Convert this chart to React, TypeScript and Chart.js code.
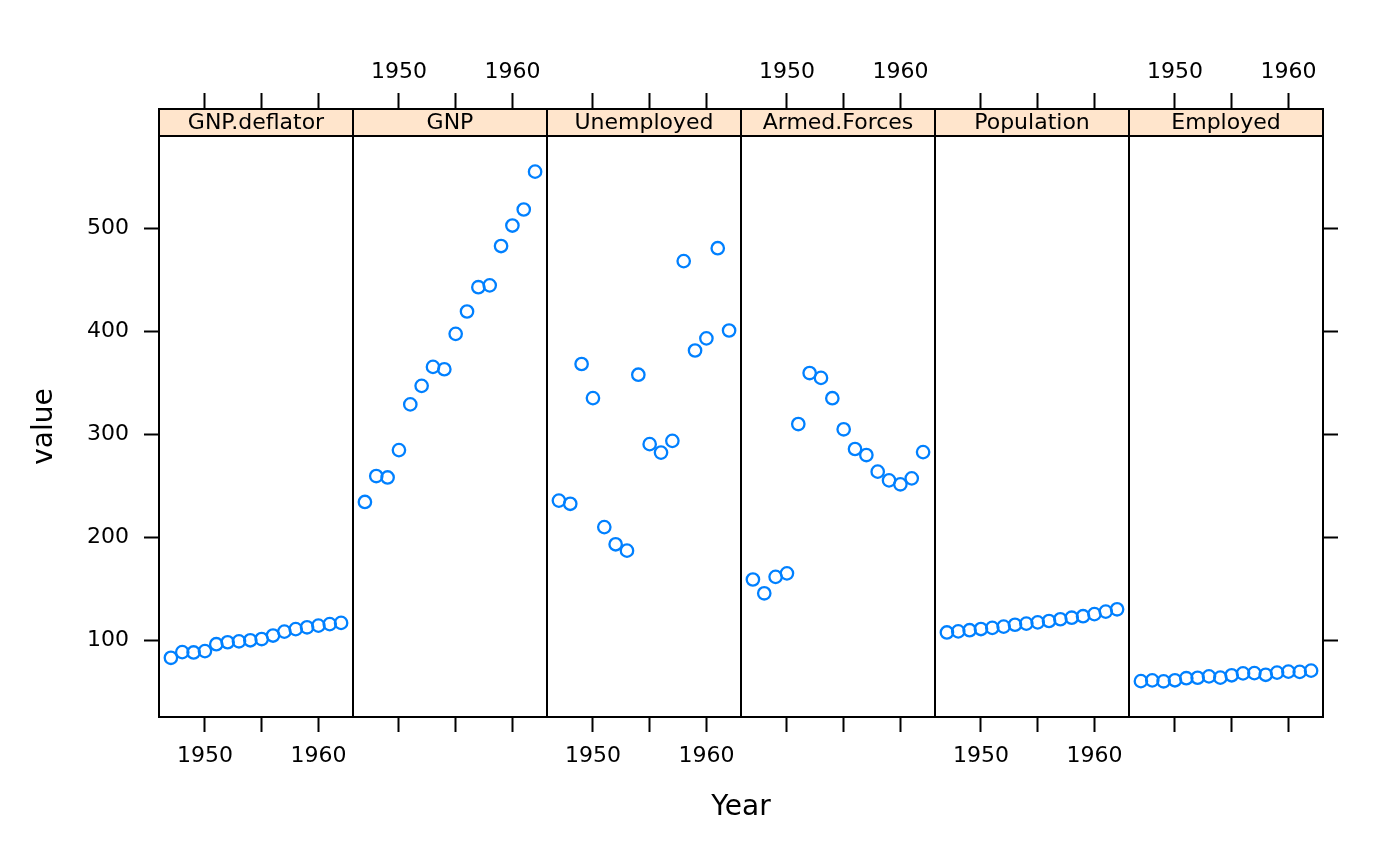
import React, { useEffect, useRef } from "react";
import { Chart, registerables } from "chart.js";

Chart.register(...registerables);

const YEARS = [1947, 1948, 1949, 1950, 1951, 1952, 1953, 1954, 1955, 1956, 1957, 1958, 1959, 1960, 1961, 1962];
const PANELS = ["GNP.deflator", "GNP", "Unemployed", "Armed.Forces", "Population", "Employed"];
const GNP_DEFLATOR = [83.0, 88.5, 88.2, 89.5, 96.2, 98.1, 99.0, 100.0, 101.2, 104.6, 108.4, 110.8, 112.6, 114.2, 115.7, 116.9];
const GNP = [234.289, 259.426, 258.054, 284.599, 328.975, 346.999, 365.385, 363.112, 397.469, 419.18, 442.769, 444.546, 482.704, 502.601, 518.173, 554.894];
const UNEMPLOYED = [235.6, 232.5, 368.2, 335.1, 209.9, 193.2, 187.0, 357.8, 290.4, 282.2, 293.6, 468.1, 381.3, 393.1, 480.6, 400.7];
const ARMED_FORCES = [159.0, 145.6, 161.6, 165.0, 309.9, 359.4, 354.7, 335.0, 304.8, 285.7, 279.8, 263.7, 255.2, 251.4, 257.2, 282.7];
const POPULATION = [107.608, 108.632, 109.773, 110.929, 112.075, 113.27, 115.094, 116.219, 117.388, 118.734, 120.445, 121.95, 123.366, 125.368, 127.852, 130.081];
const EMPLOYED = [60.323, 61.122, 60.171, 61.187, 63.221, 63.639, 64.989, 63.761, 66.019, 67.857, 68.169, 66.513, 68.655, 69.564, 69.331, 70.551];
const SERIES = [GNP_DEFLATOR, GNP, UNEMPLOYED, ARMED_FORCES, POPULATION, EMPLOYED];
const X_TICKS = [1950, 1955, 1960];
const X_LABELS = [1950, 1960];
const Y_TICKS = [100, 200, 300, 400, 500];

const X_MIN = 1945.95;
const X_MAX = 1963.05;
const W = X_MAX - X_MIN;
const Y_MIN = 25.54;
const Y_MAX = 589.52;

const FONT = "'DejaVu Sans', sans-serif";
const BLUE = "#0080ff";
const STRIP = "#ffe5cc";

export default function App() {
  const ref = useRef<HTMLCanvasElement | null>(null);

  useEffect(() => {
    const canvas = ref.current;
    if (!canvas) return;

    const panelTicks = (scale: any) => {
      const t: any[] = [];
      for (let k = 0; k < PANELS.length; k++) {
        for (const y of X_TICKS) t.push({ value: y + k * W });
      }
      scale.ticks = t;
    };
    const panelLabel = (odd: boolean) => (v: any) => {
      const val = Number(v);
      const k = Math.floor((val - X_MIN) / W);
      const yr = Math.round(val - k * W);
      if ((k % 2 === 1) !== odd) return "";
      return X_LABELS.includes(yr) ? String(yr) : "";
    };

    const scales: any = {};
    PANELS.forEach((_, k) => {
      scales["x" + k] = {
        type: "linear",
        display: false,
        min: X_MIN - k * W,
        max: X_MAX + (PANELS.length - 1 - k) * W,
      };
    });
    const tickFont = { family: FONT, size: 22 };
    scales.xb = {
      type: "linear",
      position: "bottom",
      min: X_MIN,
      max: X_MIN + PANELS.length * W,
      afterBuildTicks: panelTicks,
      afterFit: (s: any) => { s.height = 149; },
      grid: { drawOnChartArea: false, tickLength: 15, tickWidth: 2, color: "#000" },
      border: { display: true, color: "#000", width: 2 },
      ticks: { autoSkip: false, maxRotation: 0, minRotation: 0, padding: 11, color: "#000", font: tickFont, callback: panelLabel(false) },
      title: { display: true, text: "Year", color: "#000", font: { family: FONT, size: 28 }, padding: { top: 0, bottom: 41 } },
    };
    scales.xt = {
      type: "linear",
      position: "top",
      min: X_MIN,
      max: X_MIN + PANELS.length * W,
      afterBuildTicks: panelTicks,
      afterFit: (s: any) => { s.height = 136; },
      grid: { drawOnChartArea: false, tickLength: 43, tickWidth: 2, color: "#000" },
      border: { display: true, color: "#000", width: 2 },
      ticks: { autoSkip: false, maxRotation: 0, minRotation: 0, padding: 8, color: "#000", font: tickFont, callback: panelLabel(true) },
    };
    const yTicks = (s: any) => { s.ticks = Y_TICKS.map((v) => ({ value: v })); };
    scales.y = {
      type: "linear",
      position: "left",
      min: Y_MIN,
      max: Y_MAX,
      afterBuildTicks: yTicks,
      afterFit: (s: any) => { s.width = 159; },
      grid: { drawOnChartArea: false, tickLength: 15, tickWidth: 2, color: "#000" },
      border: { display: true, color: "#000", width: 2 },
      ticks: { padding: 15, color: "#000", font: tickFont, callback: (v: any) => String(v) },
      title: { display: true, text: "value", color: "#000", font: { family: FONT, size: 28 }, padding: { top: 28, bottom: 0 } },
    };
    scales.y2 = {
      type: "linear",
      position: "right",
      min: Y_MIN,
      max: Y_MAX,
      afterBuildTicks: yTicks,
      afterFit: (s: any) => { s.width = 77; },
      grid: { drawOnChartArea: false, tickLength: 15, tickWidth: 2, color: "#000" },
      border: { display: true, color: "#000", width: 2 },
      ticks: { padding: 0, color: "#000", font: tickFont, callback: () => "" },
    };

    const panelPlugin = {
      id: "panels",
      afterDraw(chart: any) {
        const ctx = chart.ctx;
        const xs = chart.scales.xb;
        const ca = chart.chartArea;
        const stripTop = ca.top - 27;
        ctx.save();
        ctx.lineWidth = 2;
        ctx.strokeStyle = "#000";
        for (let k = 0; k < PANELS.length; k++) {
          const l = xs.getPixelForValue(X_MIN + k * W);
          const r = xs.getPixelForValue(X_MIN + (k + 1) * W);
          ctx.fillStyle = STRIP;
          ctx.fillRect(l, stripTop, r - l, ca.top - stripTop);
          ctx.strokeRect(l, stripTop, r - l, ca.top - stripTop);
          ctx.fillStyle = "#000";
          ctx.font = `22px ${FONT}`;
          ctx.textAlign = "center";
          ctx.textBaseline = "middle";
          ctx.fillText(PANELS[k], (l + r) / 2, (stripTop + ca.top) / 2 + 1);
          if (k > 0) {
            ctx.beginPath();
            ctx.moveTo(l, ca.top);
            ctx.lineTo(l, ca.bottom);
            ctx.stroke();
          }
        }
        ctx.strokeRect(ca.left, ca.top, ca.right - ca.left, ca.bottom - ca.top);
        ctx.restore();
      },
    };

    const chart = new Chart(canvas, {
      type: "scatter",
      data: {
        datasets: SERIES.map((vals, k) => ({
          label: PANELS[k],
          xAxisID: "x" + k,
          yAxisID: "y",
          data: YEARS.map((yr, i) => ({ x: yr, y: vals[i] })),
          pointRadius: 6.2,
          pointHoverRadius: 6.2,
          pointBorderWidth: 2.3,
          pointBorderColor: BLUE,
          pointBackgroundColor: "rgba(0,0,0,0)",
          showLine: false,
        })),
      },
      options: {
        animation: false,
        responsive: false,
        devicePixelRatio: 1,
        layout: { padding: 0 },
        plugins: { legend: { display: false }, tooltip: { enabled: false } },
        events: [],
        scales,
      } as any,
      plugins: [panelPlugin],
    });
    return () => chart.destroy();
  }, []);

  return (
    <div style={{ position: "fixed", left: 0, top: 0, width: 1400, height: 866, background: "#fff" }}>
      <canvas ref={ref} width={1400} height={866} style={{ width: 1400, height: 866, display: "block" }} />
    </div>
  );
}
